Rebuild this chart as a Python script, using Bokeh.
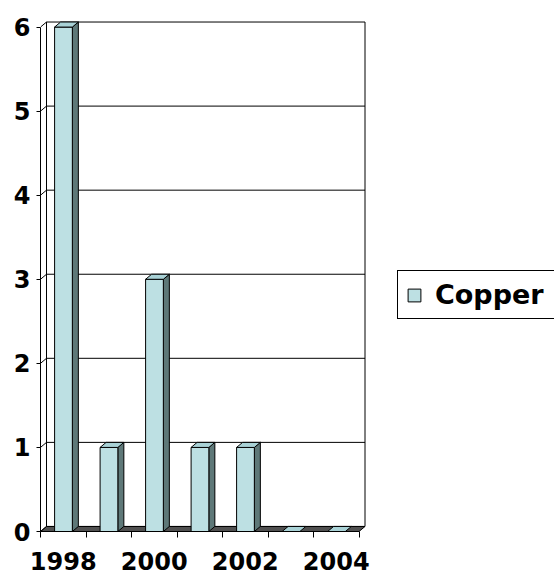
from bokeh.plotting import figure
from bokeh.models import Range1d, FixedTicker, Legend, LegendItem
from bokeh.embed import file_html
from bokeh.resources import INLINE

# ---- data ----
years = ["1998", "1999", "2000", "2001", "2002", "2003", "2004"]
copper = [6, 1, 3, 1, 1, 0, 0]
y_ticks = [0, 1, 2, 3, 4, 5, 6]
x_label_years = ["1998", "2000", "2002", "2004"]
series_name = "Copper"

# ---- styling / 3D geometry ----
DX, DY = 0.132, 0.06          # depth offset in data units
BAR_L, BAR_R = 0.31, 0.70     # bar front face within a category slot
FRONT = "#BDE0E3"
TOP = "#A9D2D6"
SIDE = "#5E7878"
FLOOR = "#505050"
FONT = "DejaVu Sans"

W, H = 554, 576
LEFT, TOPB, BOTTOM = 40, 19, 45
PX_PER_CAT = 45.5

n = len(years)
ymax = max(y_ticks)

p = figure(width=W, height=H,
           x_range=Range1d(0, (W - LEFT) / PX_PER_CAT),
           y_range=Range1d(0, ymax + DY + 0.03),
           output_backend="svg", toolbar_location=None,
           min_border_left=LEFT, min_border_right=0,
           min_border_top=TOPB, min_border_bottom=BOTTOM)
p.outline_line_color = None
p.xgrid.visible = False
p.ygrid.visible = False
p.background_fill_color = "white"
p.border_fill_color = "white"

# floor
p.patch([0, n, n + DX, DX], [0, 0, DY, DY], fill_color=FLOOR,
        line_color="black", line_width=1)

# back-wall gridlines (with diagonal on side wall)
gx = [[0, DX, n + DX] for v in y_ticks]
gy = [[v, v + DY, v + DY] for v in y_ticks]
p.multi_line(gx, gy, line_color="black", line_width=1)
# wall verticals
p.multi_line([[DX, DX], [n + DX, n + DX]],
             [[DY, ymax + DY], [DY, ymax + DY]],
             line_color="black", line_width=1)

# bars
xs_side, ys_side, xs_top, ys_top = [], [], [], []
fl, fr, ft = [], [], []
for i, v in enumerate(copper):
    l, r = i + BAR_L, i + BAR_R
    xs_top.append([l, r, r + DX, l + DX])
    ys_top.append([v, v, v + DY, v + DY])
    if v > 0:
        xs_side.append([r, r + DX, r + DX, r])
        ys_side.append([0, DY, v + DY, v])
        fl.append(l); fr.append(r); ft.append(v)

p.patches(xs_side, ys_side, fill_color=SIDE, line_color="black", line_width=1)
front = p.quad(left=fl, right=fr, bottom=[0] * len(fl), top=ft,
               fill_color=FRONT, line_color="black", line_width=1)
p.patches(xs_top, ys_top, fill_color=TOP, line_color="black", line_width=1)

# axes
p.yaxis.ticker = FixedTicker(ticks=y_ticks)
p.yaxis.bounds = (0, ymax)
p.yaxis.major_tick_in = 0
p.yaxis.major_tick_out = 4
p.yaxis.minor_tick_line_color = None
p.yaxis.major_label_standoff = 6
p.yaxis.major_label_text_font = FONT
p.yaxis.major_label_text_font_style = "bold"
p.yaxis.major_label_text_font_size = "24px"
p.yaxis.major_label_text_color = "black"
p.yaxis.axis_line_color = "black"

label_pos = [years.index(y) + 0.5 for y in x_label_years]
p.xaxis.ticker = FixedTicker(ticks=label_pos, minor_ticks=list(range(n + 1)))
p.xaxis.major_label_overrides = {pos: y for pos, y in zip(label_pos, x_label_years)}
p.xaxis.bounds = (0, n)
p.xaxis.major_tick_line_color = None
p.xaxis.major_tick_in = 0
p.xaxis.major_tick_out = 6
p.xaxis.minor_tick_in = 0
p.xaxis.minor_tick_out = 6
p.xaxis.minor_tick_line_color = "black"
p.xaxis.major_label_standoff = 14
p.xaxis.major_label_text_line_height = 0.8
p.xaxis.major_label_text_font = FONT
p.xaxis.major_label_text_font_style = "bold"
p.xaxis.major_label_text_font_size = "24px"
p.xaxis.major_label_text_color = "black"
p.xaxis.axis_line_color = "black"

legend = Legend(items=[LegendItem(label=series_name, renderers=[front])],
                location=(357, 212), padding=8, margin=0, spacing=0,
                glyph_width=16, glyph_height=16, label_standoff=13,
                label_width=140,
                border_line_color="black", border_line_width=1.5,
                border_line_alpha=1,
                background_fill_alpha=1, background_fill_color="white",
                label_text_font=FONT, label_text_font_style="bold",
                label_text_font_size="27px", label_text_color="black")
p.add_layout(legend, "center")

open("out.html", "w").write(file_html(p, INLINE))
